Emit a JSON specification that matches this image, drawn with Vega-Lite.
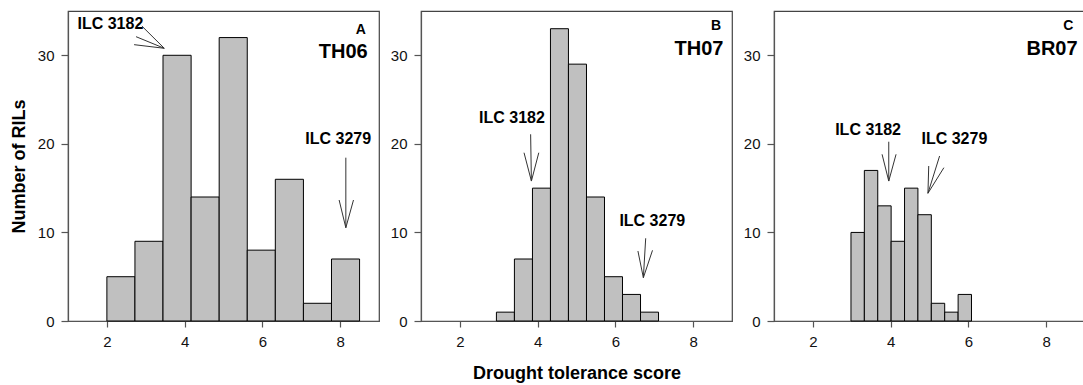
{
  "$schema": "https://vega.github.io/schema/vega-lite/v6.json",
  "padding": {"left": 9, "top": 10, "right": 0, "bottom": 0},
  "bounds": "flush",
  "spacing": 42,
  "background": "white",
  "config": {
    "font": "Liberation Sans",
    "view": {"stroke": "#444", "strokeWidth": 1.2},
    "axis": {
      "grid": false,
      "domainColor": "#555",
      "domainWidth": 1.2,
      "tickColor": "#555",
      "tickWidth": 1.2,
      "labelFont": "Liberation Sans",
      "labelFontSize": 15,
      "labelColor": "#111",
      "titleFont": "Liberation Sans",
      "titleFontSize": 18,
      "titleFontWeight": "bold",
      "titleColor": "#000"
    }
  },
  "datasets": {
    "bars": [
      {"panel": "A", "lo": 2.0, "hi": 2.722, "n": 5},
      {"panel": "A", "lo": 2.722, "hi": 3.444, "n": 9},
      {"panel": "A", "lo": 3.444, "hi": 4.167, "n": 30},
      {"panel": "A", "lo": 4.167, "hi": 4.889, "n": 14},
      {"panel": "A", "lo": 4.889, "hi": 5.611, "n": 32},
      {"panel": "A", "lo": 5.611, "hi": 6.333, "n": 8},
      {"panel": "A", "lo": 6.333, "hi": 7.056, "n": 16},
      {"panel": "A", "lo": 7.056, "hi": 7.778, "n": 2},
      {"panel": "A", "lo": 7.778, "hi": 8.5, "n": 7},
      {"panel": "B", "lo": 2.94, "hi": 3.403, "n": 1},
      {"panel": "B", "lo": 3.403, "hi": 3.867, "n": 7},
      {"panel": "B", "lo": 3.867, "hi": 4.33, "n": 15},
      {"panel": "B", "lo": 4.33, "hi": 4.793, "n": 33},
      {"panel": "B", "lo": 4.793, "hi": 5.257, "n": 29},
      {"panel": "B", "lo": 5.257, "hi": 5.72, "n": 14},
      {"panel": "B", "lo": 5.72, "hi": 6.183, "n": 5},
      {"panel": "B", "lo": 6.183, "hi": 6.647, "n": 3},
      {"panel": "B", "lo": 6.647, "hi": 7.11, "n": 1},
      {"panel": "C", "lo": 2.98, "hi": 3.324, "n": 10},
      {"panel": "C", "lo": 3.324, "hi": 3.669, "n": 17},
      {"panel": "C", "lo": 3.669, "hi": 4.013, "n": 13},
      {"panel": "C", "lo": 4.013, "hi": 4.358, "n": 9},
      {"panel": "C", "lo": 4.358, "hi": 4.702, "n": 15},
      {"panel": "C", "lo": 4.702, "hi": 5.047, "n": 12},
      {"panel": "C", "lo": 5.047, "hi": 5.391, "n": 2},
      {"panel": "C", "lo": 5.391, "hi": 5.736, "n": 1},
      {"panel": "C", "lo": 5.736, "hi": 6.08, "n": 3}
    ],
    "arrows": [
      {"panel": "A", "xs": 2.90, "ys": 33.3, "xe": 3.476, "ye": 30.79},
      {"panel": "A", "xs": 2.75, "ys": 32.1, "xe": 3.476, "ye": 30.79},
      {"panel": "A", "xs": 2.70, "ys": 31.2, "xe": 3.476, "ye": 30.79},
      {"panel": "A", "xs": 8.147, "ys": 18.44, "xe": 8.147, "ye": 10.53},
      {"panel": "A", "xs": 7.974, "ys": 13.66, "xe": 8.147, "ye": 10.53},
      {"panel": "A", "xs": 8.344, "ys": 13.66, "xe": 8.147, "ye": 10.53},
      {"panel": "B", "xs": 3.82, "ys": 21.08, "xe": 3.84, "ye": 15.8},
      {"panel": "B", "xs": 3.65, "ys": 19.0, "xe": 3.84, "ye": 15.8},
      {"panel": "B", "xs": 4.03, "ys": 19.0, "xe": 3.84, "ye": 15.8},
      {"panel": "B", "xs": 6.78, "ys": 9.34, "xe": 6.72, "ye": 4.89},
      {"panel": "B", "xs": 6.58, "ys": 7.9, "xe": 6.72, "ye": 4.89},
      {"panel": "B", "xs": 6.955, "ys": 7.98, "xe": 6.72, "ye": 4.89},
      {"panel": "C", "xs": 3.952, "ys": 20.24, "xe": 3.952, "ye": 15.8},
      {"panel": "C", "xs": 3.78, "ys": 18.82, "xe": 3.952, "ye": 15.8},
      {"panel": "C", "xs": 4.14, "ys": 18.82, "xe": 3.952, "ye": 15.8},
      {"panel": "C", "xs": 5.26, "ys": 18.63, "xe": 4.96, "ye": 14.42},
      {"panel": "C", "xs": 5.37, "ys": 17.31, "xe": 4.96, "ye": 14.42},
      {"panel": "C", "xs": 4.98, "ys": 17.5, "xe": 4.96, "ye": 14.42}
    ],
    "notes": [
      {"panel": "A", "kind": "line", "x": 2.09, "y": 33.55, "label": "ILC 3182"},
      {"panel": "A", "kind": "line", "x": 7.95, "y": 20.5, "label": "ILC 3279"},
      {"panel": "A", "kind": "letter", "x": 8.66, "y": 32.9, "label": "A"},
      {"panel": "A", "kind": "site", "x": 8.71, "y": 30.4, "label": "TH06"},
      {"panel": "B", "kind": "line", "x": 3.34, "y": 22.9, "label": "ILC 3182"},
      {"panel": "B", "kind": "line", "x": 6.95, "y": 11.29, "label": "ILC 3279"},
      {"panel": "B", "kind": "letter", "x": 8.72, "y": 33.3, "label": "B"},
      {"panel": "B", "kind": "site", "x": 8.78, "y": 30.66, "label": "TH07"},
      {"panel": "C", "kind": "line", "x": 3.42, "y": 21.53, "label": "ILC 3182"},
      {"panel": "C", "kind": "line", "x": 5.64, "y": 20.58, "label": "ILC 3279"},
      {"panel": "C", "kind": "letter", "x": 8.70, "y": 33.3, "label": "C"},
      {"panel": "C", "kind": "site", "x": 8.81, "y": 30.7, "label": "BR07"}
    ]
  },
  "hconcat": [
    {
      "width": 311,
      "height": 310,
      "layer": [
        {
          "data": {"name": "bars"},
          "transform": [{"filter": "datum.panel === 'A'"}],
          "mark": {"type": "rect", "fill": "#c0c0c0", "stroke": "#000", "strokeWidth": 1},
          "encoding": {
            "x": {"field": "lo", "type": "quantitative", "scale": {"domain": [1, 9], "nice": false},
                  "axis": {"values": [2, 4, 6, 8], "title": null, "tickSize": 6, "labelPadding": 7}},
            "x2": {"field": "hi"},
            "y": {"field": "n", "type": "quantitative", "scale": {"domain": [0, 35], "nice": false},
                  "axis": {"values": [0, 10, 20, 30], "title": "Number of RILs", "tickSize": 7, "labelPadding": 7, "titlePadding": 9}},
            "y2": {"datum": 0}
          }
        },
        {
          "data": {"name": "arrows"},
          "transform": [{"filter": "datum.panel === 'A'"}],
          "mark": {"type": "rule", "stroke": "#333", "strokeWidth": 1},
          "encoding": {
            "x": {"field": "xs", "type": "quantitative"},
            "y": {"field": "ys", "type": "quantitative"},
            "x2": {"field": "xe"},
            "y2": {"field": "ye"}
          }
        },
        {
          "data": {"name": "notes"},
          "transform": [{"filter": "datum.panel === 'A' && datum.kind === 'line'"}],
          "mark": {"type": "text", "fontSize": 16, "fontWeight": "bold", "align": "center", "baseline": "middle", "color": "#000"},
          "encoding": {"x": {"field": "x", "type": "quantitative"}, "y": {"field": "y", "type": "quantitative"}, "text": {"field": "label"}}
        },
        {
          "data": {"name": "notes"},
          "transform": [{"filter": "datum.panel === 'A' && datum.kind === 'letter'"}],
          "mark": {"type": "text", "fontSize": 14, "fontWeight": "bold", "align": "right", "baseline": "middle", "color": "#000"},
          "encoding": {"x": {"field": "x", "type": "quantitative"}, "y": {"field": "y", "type": "quantitative"}, "text": {"field": "label"}}
        },
        {
          "data": {"name": "notes"},
          "transform": [{"filter": "datum.panel === 'A' && datum.kind === 'site'"}],
          "mark": {"type": "text", "fontSize": 20, "fontWeight": "bold", "align": "right", "baseline": "middle", "color": "#000"},
          "encoding": {"x": {"field": "x", "type": "quantitative"}, "y": {"field": "y", "type": "quantitative"}, "text": {"field": "label"}}
        }
      ]
    },
    {
      "width": 311,
      "height": 310,
      "layer": [
        {
          "data": {"name": "bars"},
          "transform": [{"filter": "datum.panel === 'B'"}],
          "mark": {"type": "rect", "fill": "#c0c0c0", "stroke": "#000", "strokeWidth": 1},
          "encoding": {
            "x": {"field": "lo", "type": "quantitative", "scale": {"domain": [1, 9], "nice": false},
                  "axis": {"values": [2, 4, 6, 8], "title": "Drought tolerance score", "tickSize": 6, "labelPadding": 7, "titlePadding": 15}},
            "x2": {"field": "hi"},
            "y": {"field": "n", "type": "quantitative", "scale": {"domain": [0, 35], "nice": false},
                  "axis": {"values": [0, 10, 20, 30], "title": null, "tickSize": 7, "labelPadding": 7}},
            "y2": {"datum": 0}
          }
        },
        {
          "data": {"name": "arrows"},
          "transform": [{"filter": "datum.panel === 'B'"}],
          "mark": {"type": "rule", "stroke": "#333", "strokeWidth": 1},
          "encoding": {
            "x": {"field": "xs", "type": "quantitative"},
            "y": {"field": "ys", "type": "quantitative"},
            "x2": {"field": "xe"},
            "y2": {"field": "ye"}
          }
        },
        {
          "data": {"name": "notes"},
          "transform": [{"filter": "datum.panel === 'B' && datum.kind === 'line'"}],
          "mark": {"type": "text", "fontSize": 16, "fontWeight": "bold", "align": "center", "baseline": "middle", "color": "#000"},
          "encoding": {"x": {"field": "x", "type": "quantitative"}, "y": {"field": "y", "type": "quantitative"}, "text": {"field": "label"}}
        },
        {
          "data": {"name": "notes"},
          "transform": [{"filter": "datum.panel === 'B' && datum.kind === 'letter'"}],
          "mark": {"type": "text", "fontSize": 14, "fontWeight": "bold", "align": "right", "baseline": "middle", "color": "#000"},
          "encoding": {"x": {"field": "x", "type": "quantitative"}, "y": {"field": "y", "type": "quantitative"}, "text": {"field": "label"}}
        },
        {
          "data": {"name": "notes"},
          "transform": [{"filter": "datum.panel === 'B' && datum.kind === 'site'"}],
          "mark": {"type": "text", "fontSize": 20, "fontWeight": "bold", "align": "right", "baseline": "middle", "color": "#000"},
          "encoding": {"x": {"field": "x", "type": "quantitative"}, "y": {"field": "y", "type": "quantitative"}, "text": {"field": "label"}}
        }
      ]
    },
    {
      "width": 311,
      "height": 310,
      "layer": [
        {
          "data": {"name": "bars"},
          "transform": [{"filter": "datum.panel === 'C'"}],
          "mark": {"type": "rect", "fill": "#c0c0c0", "stroke": "#000", "strokeWidth": 1},
          "encoding": {
            "x": {"field": "lo", "type": "quantitative", "scale": {"domain": [1, 9], "nice": false},
                  "axis": {"values": [2, 4, 6, 8], "title": null, "tickSize": 6, "labelPadding": 7}},
            "x2": {"field": "hi"},
            "y": {"field": "n", "type": "quantitative", "scale": {"domain": [0, 35], "nice": false},
                  "axis": {"values": [0, 10, 20, 30], "title": null, "tickSize": 7, "labelPadding": 7}},
            "y2": {"datum": 0}
          }
        },
        {
          "data": {"name": "arrows"},
          "transform": [{"filter": "datum.panel === 'C'"}],
          "mark": {"type": "rule", "stroke": "#333", "strokeWidth": 1},
          "encoding": {
            "x": {"field": "xs", "type": "quantitative"},
            "y": {"field": "ys", "type": "quantitative"},
            "x2": {"field": "xe"},
            "y2": {"field": "ye"}
          }
        },
        {
          "data": {"name": "notes"},
          "transform": [{"filter": "datum.panel === 'C' && datum.kind === 'line'"}],
          "mark": {"type": "text", "fontSize": 16, "fontWeight": "bold", "align": "center", "baseline": "middle", "color": "#000"},
          "encoding": {"x": {"field": "x", "type": "quantitative"}, "y": {"field": "y", "type": "quantitative"}, "text": {"field": "label"}}
        },
        {
          "data": {"name": "notes"},
          "transform": [{"filter": "datum.panel === 'C' && datum.kind === 'letter'"}],
          "mark": {"type": "text", "fontSize": 14, "fontWeight": "bold", "align": "right", "baseline": "middle", "color": "#000"},
          "encoding": {"x": {"field": "x", "type": "quantitative"}, "y": {"field": "y", "type": "quantitative"}, "text": {"field": "label"}}
        },
        {
          "data": {"name": "notes"},
          "transform": [{"filter": "datum.panel === 'C' && datum.kind === 'site'"}],
          "mark": {"type": "text", "fontSize": 20, "fontWeight": "bold", "align": "right", "baseline": "middle", "color": "#000"},
          "encoding": {"x": {"field": "x", "type": "quantitative"}, "y": {"field": "y", "type": "quantitative"}, "text": {"field": "label"}}
        }
      ]
    }
  ]
}
